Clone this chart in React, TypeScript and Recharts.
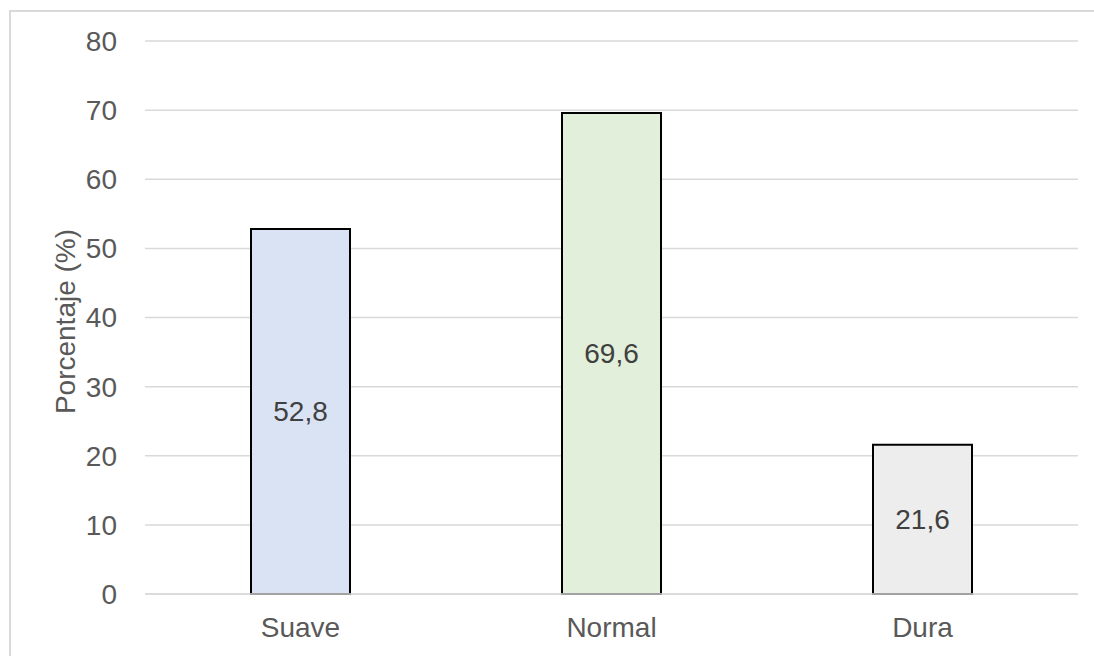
import { BarChart, Bar, XAxis, YAxis, CartesianGrid, Cell, LabelList } from 'recharts';

const categories = ['Suave', 'Normal', 'Dura'];
const percentages = [52.8, 69.6, 21.6];
const barColors = ['#dae3f3', '#e2efda', '#ededed'];
const yTicks = [0, 10, 20, 30, 40, 50, 60, 70, 80];

const data = categories.map((name, i) => ({ name, value: percentages[i] }));

const font = '"Liberation Sans", Arial, sans-serif';
const textSize = 28;

// rotated y-axis title, centred on the plot height
function YTitle({ viewBox }: any) {
  const x = viewBox.x + 20;
  const y = viewBox.y + viewBox.height / 2 + 4;
  return (
    <text
      x={x}
      y={y}
      transform={`rotate(-90, ${x}, ${y})`}
      textAnchor="middle"
      dominantBaseline="central"
      fontSize={textSize}
      fontFamily={font}
      fill="#595959"
    >
      Porcentaje (%)
    </text>
  );
}

export default function App() {
  return (
    <div style={{ position: 'absolute', left: 0, top: 0, width: 1094, height: 656, background: '#fff', overflow: 'hidden' }}>
      <div
        style={{
          position: 'absolute',
          left: 9,
          top: 10,
          width: 1090,
          height: 660,
          border: '2px solid #d9d9d9',
          boxSizing: 'border-box',
        }}
      />
      <div style={{ position: 'absolute', left: 0, top: 0 }}>
        <BarChart
          width={1094}
          height={656}
          data={data}
          margin={{ top: 41, right: 16, bottom: 0, left: 45 }}
          barSize={99}
          style={{ fontFamily: font }}
        >
          <CartesianGrid vertical={false} stroke="#d9d9d9" strokeWidth={1.5} />
          <XAxis
            dataKey="name"
            height={62}
            axisLine={{ stroke: '#d9d9d9', strokeWidth: 1.5 }}
            tickLine={false}
            tickMargin={17}
            fontSize={textSize}
            tick={{ fontSize: textSize, fill: '#595959', fontFamily: font }}
          />
          <YAxis
            width={100}
            domain={[0, 80]}
            ticks={yTicks}
            interval={0}
            axisLine={false}
            tickLine={false}
            tickMargin={22}
            fontSize={textSize}
            tick={{ fontSize: textSize, fill: '#595959', fontFamily: font }}
            label={<YTitle />}
          />
          <Bar dataKey="value" stroke="#000" strokeWidth={2} isAnimationActive={false}>
            {data.map((d, i) => (
              <Cell key={d.name} fill={barColors[i]} />
            ))}
            <LabelList
              dataKey="value"
              position="center"
              fontSize={textSize}
              formatter={(v: number) => String(v).replace('.', ',')}
              style={{ fontSize: textSize, fill: '#404040', fontFamily: font }}
            />
          </Bar>
        </BarChart>
      </div>
    </div>
  );
}
